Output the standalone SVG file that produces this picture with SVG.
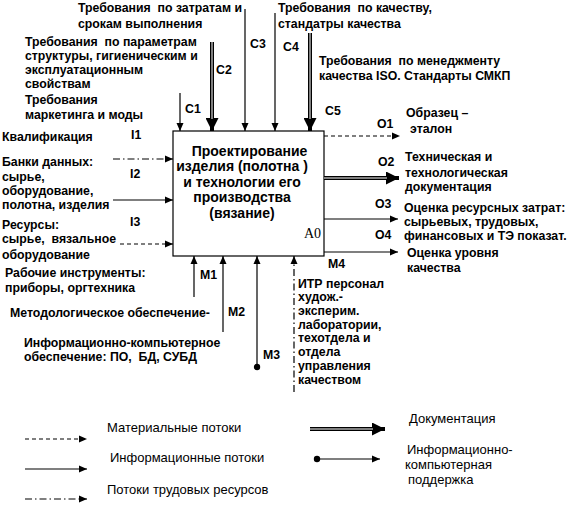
<svg xmlns="http://www.w3.org/2000/svg" width="567" height="512" viewBox="0 0 567 512">
<style>
text{font-family:"Liberation Sans",Arial,sans-serif;font-size:12.3px;font-weight:bold;fill:#000;white-space:pre}
.lg{font-weight:normal;font-size:13px}
.bx{font-size:14px;text-anchor:middle}
.a0{font-family:"Liberation Serif","Times New Roman",serif;font-weight:normal;font-size:14px}
.ln{stroke:#000;stroke-width:1.2;fill:none}
.ds{stroke-dasharray:4 3}
.dd{stroke-dasharray:7 3 1.5 3}
.dbl{stroke:#000;stroke-width:4;fill:none}
.dbw{stroke:#fff;stroke-width:1;fill:none}
</style>
<defs>
<marker id="a" markerUnits="userSpaceOnUse" markerWidth="8" markerHeight="8" refX="8" refY="4" orient="auto"><path d="M0,0.5 L8,4 L0,7.5 z" fill="#000"/></marker>
<marker id="b" markerUnits="userSpaceOnUse" markerWidth="13" markerHeight="13" refX="13" refY="6.5" orient="auto"><path d="M0,0 L13,6.5 L0,13 z" fill="#000"/></marker>
</defs>
<rect width="567" height="512" fill="#fff"/>
<g id="A0">
<rect x="173" y="131" width="151" height="125" fill="#fff" stroke="#000" stroke-width="1.2"/>
<text class="bx" x="249.5" y="156">Проектирование</text>
<text class="bx" x="242" y="171">изделия (полотна )</text>
<text class="bx" x="242" y="187">и технологии его</text>
<text class="bx" x="242" y="202">производства</text>
<text class="bx" x="242" y="218">(вязание)</text>
<text class="a0" x="304" y="238">A0</text>
</g>
<g id="connectors">
<line class="ln" x1="180" y1="93" x2="180" y2="131" marker-end="url(#a)"/>
<line class="dbl" x1="212" y1="42" x2="212" y2="131" marker-end="url(#b)"/>
<line class="dbw" x1="212" y1="42" x2="212" y2="119"/>
<line class="ln" x1="245" y1="9" x2="245" y2="131" marker-end="url(#a)"/>
<line class="ln" x1="275" y1="13" x2="275" y2="131" marker-end="url(#a)"/>
<line class="dbl" x1="310" y1="33" x2="310" y2="131" marker-end="url(#b)"/>
<line class="dbw" x1="310" y1="33" x2="310" y2="119"/>
<line class="ln dd" x1="113" y1="159" x2="173" y2="159" marker-end="url(#a)"/>
<line class="ln" x1="113" y1="200" x2="173" y2="200" marker-end="url(#a)"/>
<line class="ln ds" x1="120" y1="244" x2="173" y2="244" marker-end="url(#a)"/>
<line class="ln ds" x1="324" y1="136" x2="400" y2="136" marker-end="url(#a)"/>
<line class="dbl" x1="324" y1="178" x2="399" y2="178" marker-end="url(#b)"/>
<line class="dbw" x1="324" y1="178" x2="387" y2="178"/>
<line class="ln" x1="324" y1="219" x2="398" y2="219" marker-end="url(#a)"/>
<line class="ln" x1="324" y1="252" x2="398" y2="252" marker-end="url(#a)"/>
<line class="ln" x1="194" y1="297" x2="194" y2="256" marker-end="url(#a)"/>
<line class="ln" x1="223" y1="332" x2="223" y2="256" marker-end="url(#a)"/>
<line class="ln" x1="257" y1="367" x2="257" y2="256" marker-end="url(#a)"/>
<circle cx="257" cy="367" r="3.2" fill="#000"/>
<line class="ln dd" x1="294" y1="392" x2="294" y2="256" marker-end="url(#a)"/>
</g>
<g id="labels">
<text x="78" y="12">Требования  по затратам и</text>
<text x="78" y="28">срокам выполнения</text>
<text x="25" y="46">Требования  по параметрам</text>
<text x="25" y="60">структуры, гигиеническим и</text>
<text x="25" y="74">эксплуатационным</text>
<text x="25" y="88">свойствам</text>
<text x="25" y="104">Требования</text>
<text x="25" y="119">маркетинга и моды</text>
<text x="278" y="12">Требования  по качеству,</text>
<text x="278" y="28">стандатры качества</text>
<text x="319" y="65">Требования  по менеджменту</text>
<text x="319" y="80">качества ISO. Стандарты СМКП</text>
<text x="185" y="113">C1</text>
<text x="216" y="74">C2</text>
<text x="250" y="48">C3</text>
<text x="283" y="51">C4</text>
<text x="325" y="115">C5</text>
<text x="2" y="141">Квалификация</text>
<text x="131" y="139">I1</text>
<text x="2" y="166">Банки данных:</text>
<text x="2" y="181">сырье,</text>
<text x="2" y="195">оборудование,</text>
<text x="2" y="209">полотна, изделия</text>
<text x="130" y="178">I2</text>
<text x="2" y="229">Ресурсы:</text>
<text x="2" y="243">сырье,  вязальное</text>
<text x="2" y="259">оборудование</text>
<text x="130" y="226">I3</text>
<text x="5" y="277">Рабочие инструменты:</text>
<text x="5" y="292">приборы, оргтехника</text>
<text x="10" y="317">Методологическое обеспечение-</text>
<text x="24" y="347">Информационно-компьютерное</text>
<text x="24" y="361">обеспечение: ПО,  БД, СУБД</text>
<text x="200" y="279">M1</text>
<text x="228" y="316">M2</text>
<text x="263" y="359">M3</text>
<text x="328" y="268">M4</text>
<text x="298" y="288">ИТР персонал</text>
<text x="298" y="301">худож.-</text>
<text x="298" y="315">эксперим.</text>
<text x="298" y="329">лаборатории,</text>
<text x="298" y="342">техотдела и</text>
<text x="298" y="356">отдела</text>
<text x="298" y="370">управления</text>
<text x="298" y="384">качеством</text>
<text x="377" y="128">O1</text>
<text x="406" y="117">Образец –</text>
<text x="410" y="133">эталон</text>
<text x="378" y="166">O2</text>
<text x="405" y="161">Техническая и</text>
<text x="405" y="177">технологическая</text>
<text x="405" y="191">документация</text>
<text x="375" y="208">O3</text>
<text x="404" y="212">Оценка ресурсных затрат:</text>
<text x="404" y="226">сырьевых, трудовых,</text>
<text x="404" y="240">финансовых и ТЭ показат.</text>
<text x="375" y="239">O4</text>
<text x="407" y="257">Оценка уровня</text>
<text x="407" y="272">качества</text>
</g>
<g id="legend">
<line class="ln ds" x1="25" y1="439" x2="87" y2="439" marker-end="url(#a)"/>
<line class="ln" x1="25" y1="469" x2="87" y2="469" marker-end="url(#a)"/>
<line class="ln dd" x1="25" y1="499" x2="87" y2="499" marker-end="url(#a)"/>
<line class="dbl" x1="310" y1="429" x2="385" y2="429" marker-end="url(#b)"/>
<line class="dbw" x1="310" y1="429" x2="373" y2="429"/>
<line class="ln" x1="317" y1="459" x2="380" y2="459" marker-end="url(#a)"/>
<circle cx="317" cy="459" r="3.2" fill="#000"/>
<text class="lg" x="107" y="432">Материальные потоки</text>
<text class="lg" x="110" y="462">Информационные потоки</text>
<text class="lg" x="107" y="494">Потоки трудовых ресурсов</text>
<text class="lg" x="409" y="423">Документация</text>
<text class="lg" x="407" y="454">Информационно-</text>
<text class="lg" x="405" y="469">компьютерная</text>
<text class="lg" x="408" y="484">поддержка</text>
</g>
</svg>
